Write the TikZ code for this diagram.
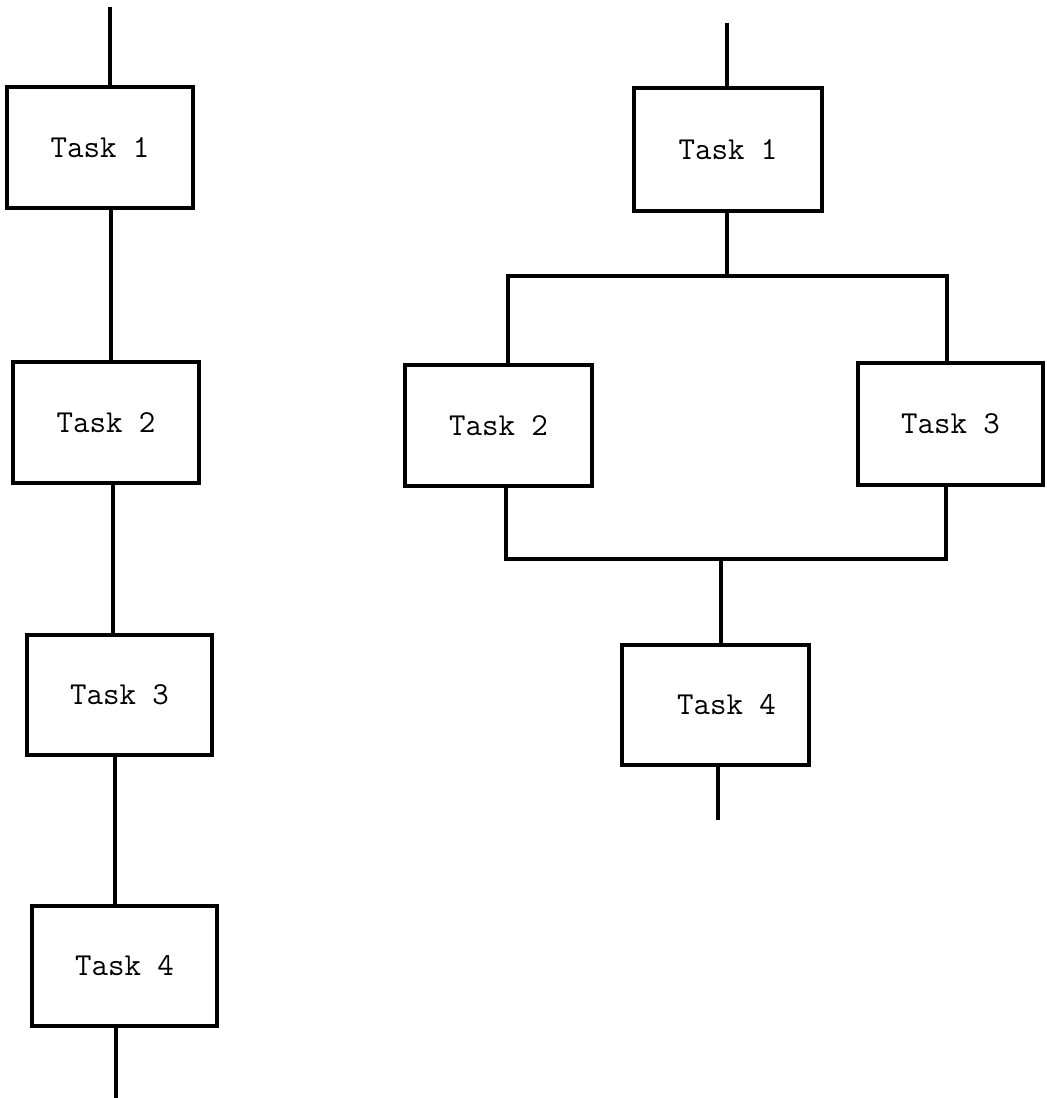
\documentclass[tikz,border=0pt]{standalone}
\begin{document}
\begin{tikzpicture}[x=1pt,y=-1pt,
  taskbox/.style={draw, line width=3.2pt, inner sep=0pt,
    font=\fontsize{32}{38}\selectfont\ttfamily},
  link/.style={line width=3.2pt}]
\useasboundingbox (0,0) rectangle (1047,1098);

% sequential chain
\node[taskbox, minimum width=186pt, minimum height=121pt] (s1) at (100,147.5) {Task 1};
\node[taskbox, minimum width=186pt, minimum height=121pt] (s2) at (106,422.5) {Task 2};
\node[taskbox, minimum width=185pt, minimum height=120pt] (s3) at (119.5,695) {Task 3};
\node[taskbox, minimum width=185pt, minimum height=120pt] (s4) at (124.5,966) {Task 4};

\coordinate (sin) at (110,7);
\coordinate (sout) at (116,1098);
\draw[link] (sin) -- (sin |- s1.north);
\draw[link] (s1.south -| 111,0) -- (s2.north -| 111,0);
\draw[link] (s2.south -| 113,0) -- (s3.north -| 113,0);
\draw[link] (s3.south -| 115,0) -- (s4.north -| 115,0);
\draw[link] (s4.south -| sout) -- (sout);

% parallel branches
\node[taskbox, minimum width=188pt, minimum height=123pt] (p1) at (728,149.5) {Task 1};
\node[taskbox, minimum width=187pt, minimum height=121pt] (p2) at (498.5,425.5) {Task 2};
\node[taskbox, minimum width=185pt, minimum height=122pt] (p3) at (950.5,424) {Task 3};
\node[taskbox, minimum width=187pt, minimum height=120pt] (p4) at (715.5,705) {\hspace*{22pt}Task 4};

\coordinate (pin) at (727,23);
\coordinate (fork) at (727,276);
\coordinate (join) at (721,559);
\coordinate (pout) at (718,820);
\draw[link] (pin) -- (pin |- p1.north);
\draw[link] (p1.south -| fork) -- (fork);
\draw[link] (p2.north -| 508,0) |- (fork) -| (p3.north -| 947,0);
\draw[link] (p2.south -| 506,0) |- (join) -| (p3.south -| 946,0);
\draw[link] (join) -- (p4.north -| join);
\draw[link] (p4.south -| pout) -- (pout);
\end{tikzpicture}
\end{document}
